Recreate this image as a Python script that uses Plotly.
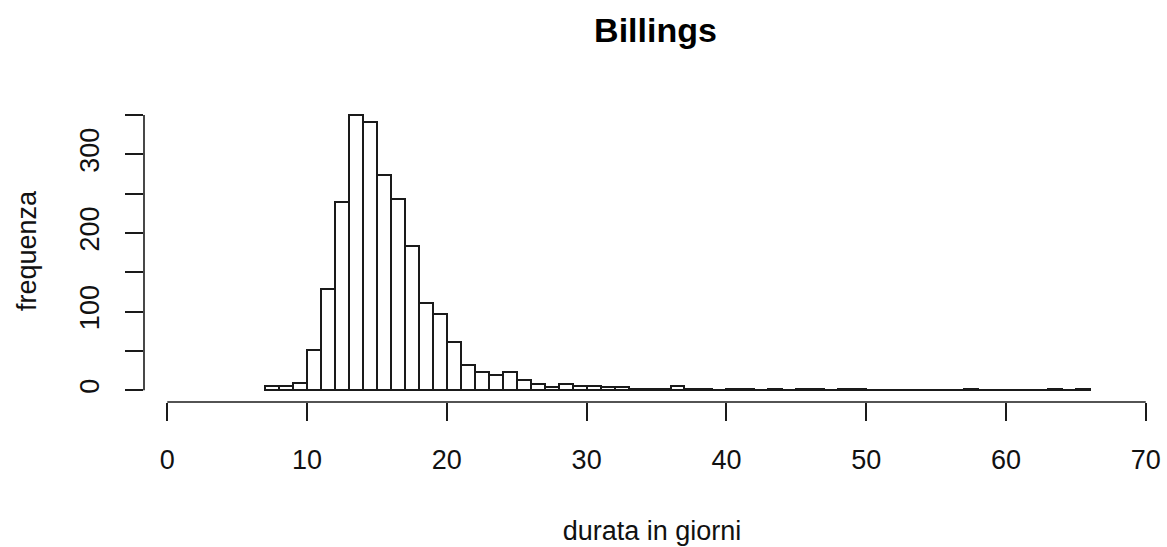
import plotly.graph_objects as go

# Histogram of durations (days), bins of width 1 from 7 to 66
bin_left = list(range(7, 66))
counts = [
    6, 6, 9, 51, 129, 239, 350, 341, 274, 243,   # 7-16
    183, 111, 97, 61, 32, 23, 20, 23, 13, 8,      # 17-26
    4, 8, 6, 5, 4, 4, 2, 2, 2, 5,                 # 27-36
    2, 2, 0, 2, 2, 0, 2, 0, 2, 2,                 # 37-46
    0, 2, 2, 0, 0, 0, 0, 0, 0, 0,                 # 47-56
    2, 0, 0, 0, 0, 0, 2, 0, 2,                    # 57-65
]
x_ticks = [0, 10, 20, 30, 40, 50, 60, 70]
y_ticks = [0, 50, 100, 150, 200, 250, 300, 350]
y_labels = ["0", "", "100", "", "200", "", "300", ""]

centers = [b + 0.5 for b in bin_left]

FONT = "Liberation Sans, Arial, sans-serif"
INK = "#1a1a1a"

fig = go.Figure()
fig.add_trace(go.Bar(
    x=centers,
    y=counts,
    width=1,
    marker=dict(color="white", line=dict(color=INK, width=2)),
    hoverinfo="x+y",
))

# axis lines spanning only the tick range, as in base R graphics
fig.add_shape(type="line", xref="x", yref="paper",
              x0=x_ticks[0], x1=x_ticks[-1], y0=0, y1=0,
              line=dict(color=INK, width=1.6))
fig.add_shape(type="line", xref="paper", yref="y",
              x0=0, x1=0, y0=y_ticks[0], y1=y_ticks[-1],
              line=dict(color=INK, width=1.6))

fig.update_layout(
    width=1167,
    height=547,
    margin=dict(l=144, r=7, t=100, b=145, pad=0),
    paper_bgcolor="white",
    plot_bgcolor="white",
    showlegend=False,
    bargap=0,
    font=dict(family=FONT, color="#111111"),
    title=dict(
        text="<b>Billings</b>",
        font=dict(size=34, family=FONT, color="black"),
        xref="container", yref="container",
        x=655.5 / 1167, xanchor="center",
        y=1 - 30 / 547, yanchor="middle",
    ),
    xaxis=dict(
        range=[-1.667, 71.02],
        tickvals=x_ticks,
        ticktext=[str(v) for v in x_ticks],
        ticks="outside", ticklen=18, tickwidth=1.6, tickcolor=INK,
        tickfont=dict(size=27, family=FONT, color="#111111"),
        ticklabelstandoff=16,
        showgrid=False, zeroline=False, showline=False,
        title=dict(text="durata in giorni", font=dict(size=27, family=FONT),
                   standoff=46),
    ),
    yaxis=dict(
        range=[-14.9, 369.1],
        tickvals=y_ticks,
        ticktext=y_labels,
        tickangle=-90,
        ticks="outside", ticklen=18, tickwidth=1.6, tickcolor=INK,
        tickfont=dict(size=27, family=FONT, color="#111111"),
        ticklabelstandoff=15,
        showgrid=False, zeroline=False, showline=False,
        title=dict(text="frequenza", font=dict(size=27, family=FONT),
                   standoff=30),
    ),
)

fig.write_html("out.html")
